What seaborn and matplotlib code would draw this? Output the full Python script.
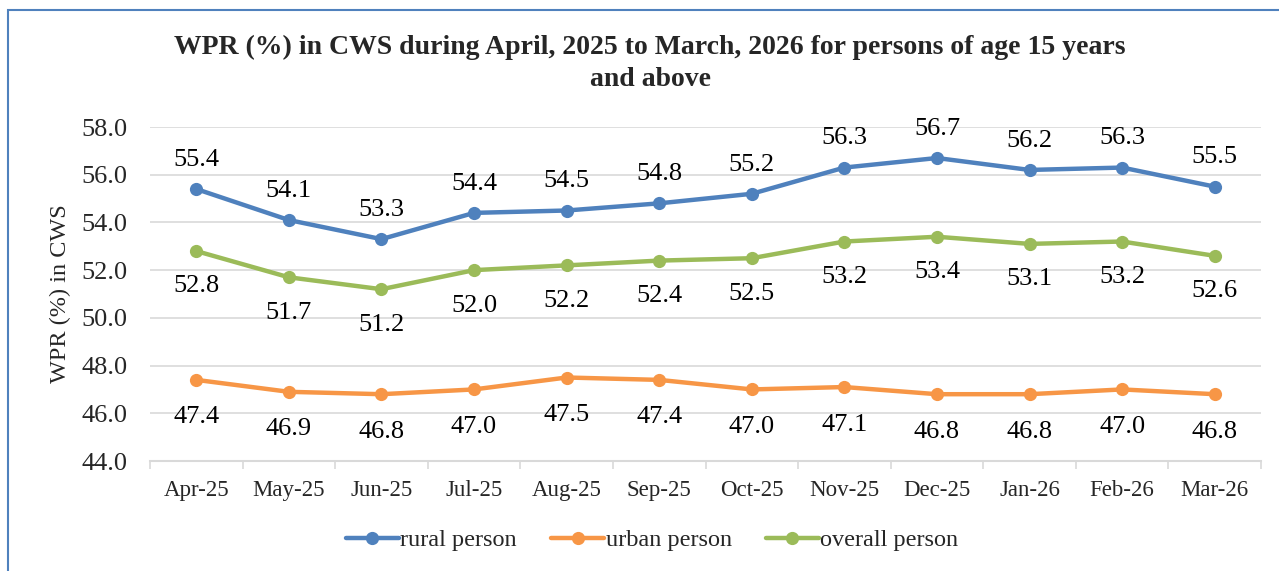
import matplotlib
matplotlib.use("Agg")
import matplotlib.pyplot as plt
import seaborn as sns
import pandas as pd
from matplotlib.patches import Rectangle

months = ["Apr-25", "May-25", "Jun-25", "Jul-25", "Aug-25", "Sep-25",
          "Oct-25", "Nov-25", "Dec-25", "Jan-26", "Feb-26", "Mar-26"]
rural = [55.4, 54.1, 53.3, 54.4, 54.5, 54.8, 55.2, 56.3, 56.7, 56.2, 56.3, 55.5]
urban = [47.4, 46.9, 46.8, 47.0, 47.5, 47.4, 47.0, 47.1, 46.8, 46.8, 47.0, 46.8]
overall = [52.8, 51.7, 51.2, 52.0, 52.2, 52.4, 52.5, 53.2, 53.4, 53.1, 53.2, 52.6]
series_names = ["rural person", "urban person", "overall person"]
y_ticks = [44.0, 46.0, 48.0, 50.0, 52.0, 54.0, 56.0, 58.0]

sns.set_theme(style="white")
plt.rcParams['font.family'] = ['Liberation Serif', 'DejaVu Serif']

rows = []
for name, vals in zip(series_names, [rural, urban, overall]):
    for m, v in zip(months, vals):
        rows.append({"month": m, "value": v, "series": name})
df = pd.DataFrame(rows)

palette = {"rural person": "#4F81BD", "urban person": "#F79646", "overall person": "#9BBB59"}

fig = plt.figure(figsize=(12.79, 5.71), dpi=100)
ax = fig.add_axes([150/1279, 1 - 461/571, 1111/1279, 334/571])

sns.lineplot(data=df, x="month", y="value", hue="series", palette=palette,
             marker="o", markersize=9.5, linewidth=3.2, markeredgewidth=0,
             sort=False, ax=ax, legend=True)

# data labels
offsets = {"rural person": 21, "urban person": -27, "overall person": -25.5}
for name, vals in zip(series_names, [rural, urban, overall]):
    for i, v in enumerate(vals):
        ax.annotate(f"{v:.1f}", (i, v), xytext=(0, offsets[name]),
                    textcoords="offset points", ha="center", va="center",
                    fontsize=19, color="black")

ax.set_xlim(-0.5, len(months) - 0.5)
ax.set_ylim(44, 58)
ax.set_yticks(y_ticks)
ax.set_yticklabels([f"{t:.1f}" for t in y_ticks], fontsize=19)
ax.set_xticks(range(len(months)))
ax.set_xticklabels(months, fontsize=16.5)
ax.set_xticks([i - 0.5 for i in range(len(months) + 1)], minor=True)
ax.tick_params(axis="x", which="major", length=0, pad=14)
ax.tick_params(axis="x", which="minor", length=6, width=1.2, color="#D9D9D9",
               direction="out", bottom=True)
ax.tick_params(axis="y", length=0, pad=16)
ax.grid(axis="y", color="#D9D9D9", linewidth=1.2)
ax.set_axisbelow(True)
for s in ["top", "right", "left"]:
    ax.spines[s].set_visible(False)
ax.spines["bottom"].set_color("#D9D9D9")
ax.spines["bottom"].set_linewidth(1.5)
ax.set_xlabel("")
ax.set_ylabel("WPR (%) in CWS", fontsize=17.5, labelpad=8)

handles, labels = ax.get_legend_handles_labels()
ax.legend(handles, labels, loc="center", bbox_to_anchor=(652/1279, 1 - 540/571),
          bbox_transform=fig.transFigure, ncol=3, frameon=False, fontsize=17.5,
          handlelength=2.2, handletextpad=0.05, columnspacing=1.4)

fig.text(650/1279, 1 - 47/571,
         "WPR (%) in CWS during April, 2025 to March, 2026 for persons of age 15 years",
         ha="center", va="center", fontsize=20, fontweight="bold")
fig.text(650/1279, 1 - 80/571, "and above",
         ha="center", va="center", fontsize=20, fontweight="bold")

fig.patches.append(Rectangle((8/1279, -0.1), 1.2, 1 - 10/571 + 0.1,
                             transform=fig.transFigure, fill=False,
                             edgecolor="#4F81BD", linewidth=1.5))

fig.savefig("out.png", dpi=100, facecolor="white")
